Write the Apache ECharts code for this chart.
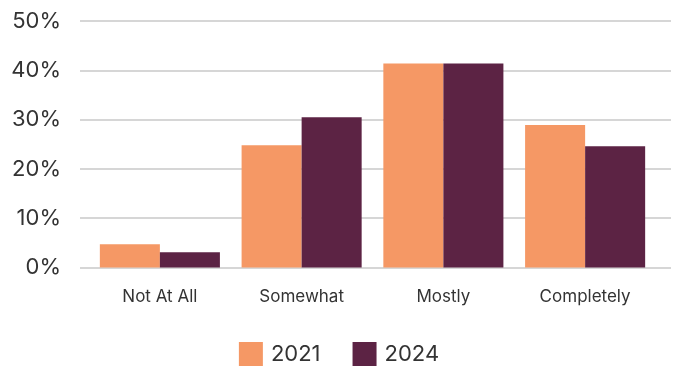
<!DOCTYPE html>
<html>
<head>
<meta charset="utf-8">
<script src="https://cdn.jsdelivr.net/npm/echarts@6/dist/echarts.min.js"></script>
<style>
  html, body { margin: 0; padding: 0; background: #ffffff; }
  #chart { width: 678px; height: 366px; }
</style>
</head>
<body>
<div id="chart"></div>
<script>
const categories = ['Not At All', 'Somewhat', 'Mostly', 'Completely'];
const values2021 = [4.7, 24.8, 41.4, 28.9];
const values2024 = [3.1, 30.5, 41.4, 24.6];
const yTicks = [0, 10, 20, 30, 40, 50];

const FONT = 'Inter, "Open Sans", sans-serif';
const chart = echarts.init(document.getElementById('chart'), null, { renderer: 'canvas' });

chart.setOption({
  animation: false,
  textStyle: { fontFamily: FONT },
  grid: [
    // full-width grid carrying the gridlines and percentage labels
    { left: 80, right: 7, top: 21, bottom: 98.5 },
    // narrower grid holding the bars
    { left: 89, right: 22, top: 21, bottom: 98.5 }
  ],
  legend: {
    data: ['2021', '2024'],
    bottom: 0,
    left: 'center',
    padding: 0,
    itemWidth: 24,
    itemHeight: 24,
    itemGap: 32,
    icon: 'rect',
    textStyle: { fontFamily: FONT, fontSize: 22, color: '#333333', padding: [0, 0, 0, 3] }
  },
  xAxis: [
    { gridIndex: 0, type: 'value', show: false, min: 0, max: 1 },
    {
      gridIndex: 1,
      type: 'category',
      data: categories,
      axisLine: { show: false },
      axisTick: { show: false },
      axisLabel: { fontFamily: FONT, fontSize: 17, color: '#333333', margin: 21 }
    }
  ],
  yAxis: [
    {
      gridIndex: 0,
      type: 'value',
      min: yTicks[0],
      max: yTicks[yTicks.length - 1],
      interval: 10,
      axisLine: { show: false },
      axisTick: { show: false },
      axisLabel: {
        fontFamily: FONT, fontSize: 22, color: '#333333', margin: 19,
        formatter: v => v + '%'
      },
      splitLine: { lineStyle: { color: '#c8c8c8', width: 1.5 } }
    },
    {
      gridIndex: 1,
      type: 'value',
      min: yTicks[0],
      max: yTicks[yTicks.length - 1],
      interval: 10,
      show: false,
      splitLine: { show: false }
    }
  ],
  series: [
    {
      name: '2021',
      type: 'bar',
      xAxisIndex: 1,
      yAxisIndex: 1,
      data: values2021,
      itemStyle: { color: '#F59865' },
      barGap: '0%',
      barCategoryGap: '15.3%'
    },
    {
      name: '2024',
      type: 'bar',
      xAxisIndex: 1,
      yAxisIndex: 1,
      data: values2024,
      itemStyle: { color: '#5C2344' },
      barGap: '0%',
      barCategoryGap: '15.3%'
    }
  ]
});
</script>
</body>
</html>
